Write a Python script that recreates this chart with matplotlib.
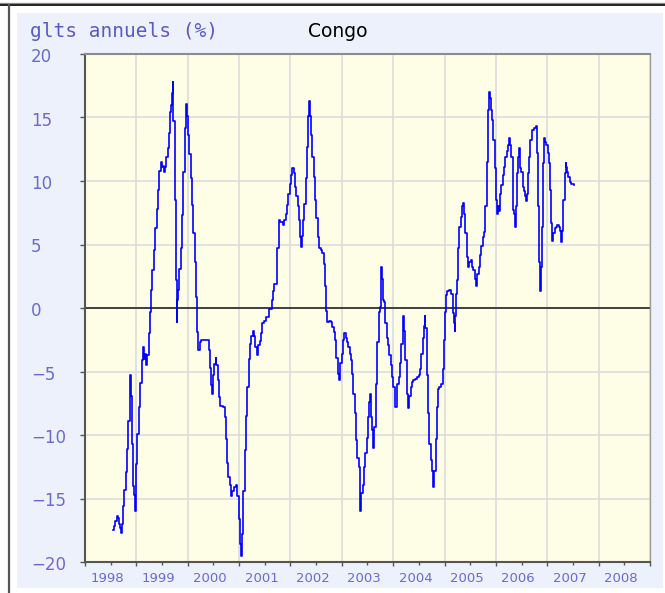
import matplotlib
matplotlib.use("Agg")
import matplotlib.pyplot as plt
from matplotlib.lines import Line2D
from matplotlib.patches import Rectangle
from matplotlib.transforms import blended_transform_factory, ScaledTranslation

# annual growth rate, Congo (decimal year, %)
dates = [
    1998.546, 1998.565, 1998.592, 1998.618, 1998.643, 1998.662, 1998.682, 1998.709, 1998.721, 1998.740,
    1998.767, 1998.793, 1998.818, 1998.845, 1998.870, 1998.884, 1998.896, 1998.915, 1998.942, 1998.962,
    1998.973, 1998.993, 1999.020, 1999.051, 1999.078, 1999.103, 1999.129, 1999.148, 1999.175, 1999.195,
    1999.214, 1999.239, 1999.259, 1999.284, 1999.311, 1999.336, 1999.362, 1999.395, 1999.420, 1999.447,
    1999.472, 1999.492, 1999.511, 1999.537, 1999.556, 1999.583, 1999.608, 1999.634, 1999.653, 1999.673,
    1999.686, 1999.706, 1999.719, 1999.744, 1999.764, 1999.783, 1999.789, 1999.797, 1999.808, 1999.836,
    1999.861, 1999.886, 1999.913, 1999.939, 1999.958, 1999.972, 1999.991, 2000.003, 2000.030, 2000.055,
    2000.080, 2000.108, 2000.139, 2000.158, 2000.178, 2000.185, 2000.205, 2000.230, 2000.263, 2000.366,
    2000.405, 2000.430, 2000.457, 2000.477, 2000.496, 2000.521, 2000.541, 2000.560, 2000.586, 2000.613,
    2000.638, 2000.690, 2000.716, 2000.741, 2000.768, 2000.793, 2000.819, 2000.846, 2000.871, 2000.910,
    2000.935, 2000.962, 2001.001, 2001.021, 2001.046, 2001.065, 2001.085, 2001.110, 2001.137, 2001.162,
    2001.188, 2001.215, 2001.240, 2001.265, 2001.293, 2001.318, 2001.351, 2001.376, 2001.401, 2001.429,
    2001.454, 2001.479, 2001.531, 2001.584, 2001.634, 2001.662, 2001.687, 2001.739, 2001.784,
    2001.803, 2001.856, 2001.881, 2001.906, 2001.934, 2001.959, 2001.984, 2002.011, 2002.037, 2002.062,
    2002.089, 2002.114, 2002.140, 2002.167, 2002.192, 2002.206, 2002.217, 2002.244, 2002.270, 2002.295,
    2002.322, 2002.347, 2002.367, 2002.386, 2002.400, 2002.425, 2002.450, 2002.478, 2002.503, 2002.528,
    2002.555, 2002.594, 2002.619, 2002.645, 2002.672, 2002.691,
    2002.711, 2002.749, 2002.788, 2002.814, 2002.839, 2002.866, 2002.891, 2002.917, 2002.944, 2002.969,
    2002.994, 2003.021, 2003.047, 2003.072, 2003.099, 2003.124, 2003.150, 2003.177, 2003.202, 2003.227,
    2003.255, 2003.280, 2003.305, 2003.332, 2003.352, 2003.363, 2003.383, 2003.410, 2003.435, 2003.460,
    2003.488, 2003.513, 2003.538, 2003.552, 2003.565, 2003.577, 2003.596, 2003.616, 2003.635, 2003.662,
    2003.674, 2003.694, 2003.721, 2003.746, 2003.760, 2003.771, 2003.785, 2003.810, 2003.830, 2003.849,
    2003.876, 2003.901, 2003.927, 2003.954, 2003.979, 2004.004, 2004.032, 2004.043, 2004.070, 2004.082,
    2004.109, 2004.134, 2004.160, 2004.187, 2004.199, 2004.212, 2004.226, 2004.237, 2004.265, 2004.284,
    2004.303, 2004.342, 2004.368, 2004.393, 2004.420, 2004.459, 2004.498, 2004.523, 2004.548, 2004.575,
    2004.601, 2004.614, 2004.626, 2004.653, 2004.665, 2004.678, 2004.704, 2004.731, 2004.756, 2004.770,
    2004.782, 2004.801, 2004.828, 2004.847, 2004.873, 2004.898, 2004.937, 2004.964, 2004.983, 2005.003,
    2005.022, 2005.042, 2005.081, 2005.106, 2005.131, 2005.158, 2005.170, 2005.183, 2005.197, 2005.208,
    2005.228,
    2005.236, 2005.261, 2005.286, 2005.314, 2005.339, 2005.352, 2005.378, 2005.403, 2005.430, 2005.455,
    2005.481, 2005.508, 2005.533, 2005.558, 2005.586, 2005.611, 2005.636, 2005.663, 2005.689, 2005.714,
    2005.741, 2005.766, 2005.791, 2005.819, 2005.838, 2005.850, 2005.863, 2005.883, 2005.896, 2005.922,
    2005.947, 2005.974, 2005.999, 2006.025, 2006.038, 2006.052, 2006.077, 2006.102, 2006.129, 2006.155,
    2006.180, 2006.207, 2006.232, 2006.258, 2006.271, 2006.297, 2006.324, 2006.335, 2006.349, 2006.363,
    2006.382, 2006.401, 2006.413, 2006.433, 2006.446, 2006.460, 2006.471, 2006.491, 2006.518, 2006.543,
    2006.568, 2006.582, 2006.596, 2006.621, 2006.646, 2006.673, 2006.699, 2006.738, 2006.776, 2006.796,
    2006.821, 2006.841, 2006.860, 2006.873, 2006.893, 2006.912, 2006.932, 2006.957, 2006.984, 2007.009,
    2007.029, 2007.048, 2007.068, 2007.093, 2007.120, 2007.145, 2007.171, 2007.198, 2007.223, 2007.249,
    2007.276, 2007.295, 2007.314, 2007.340, 2007.359, 2007.373, 2007.392, 2007.412, 2007.437, 2007.462,
    2007.489, 2007.514,
]

growth = [
    -17.5, -17.2, -16.8, -16.4, -16.5, -17.0, -17.3, -17.7, -17.0, -15.6,
    -14.3, -12.9, -11.1, -8.9, -6.5, -5.3, -6.9, -10.7, -14.0, -14.7,
    -16.0, -12.3, -9.9, -7.8, -5.9, -4.1, -3.1, -4.0, -3.6, -4.5,
    -3.7, -2.0, -0.3, 1.4, 3.0, 4.6, 6.3, 7.8, 9.3, 10.8,
    11.5, 11.1, 11.2, 10.7, 11.1, 11.9, 12.6, 13.8, 15.4, 16.0,
    16.9, 17.8, 14.7, 8.5, 2.2, 0.1, -1.1, 0.6, 1.4, 3.1,
    4.7, 7.3, 10.7, 14.2, 15.2, 16.1, 15.1, 13.6, 12.1, 10.2,
    8.1, 5.9, 3.6, 0.9, 0.1, -1.9, -3.3, -2.7, -2.5, -2.5,
    -3.3, -4.7, -6.1, -6.8, -5.3, -4.4, -3.9, -4.5, -5.7, -7.0,
    -7.7, -7.8, -8.6, -10.3, -12.2, -13.3, -13.9, -14.8, -14.4, -14.1,
    -13.9, -14.8, -16.6, -18.6, -19.5, -17.8, -14.4, -11.2, -8.5, -6.2,
    -4.0, -2.8, -2.2, -1.8, -2.2, -3.1, -3.7, -2.9, -2.6, -2.0,
    -1.2, -1.0, -0.7, -0.1, 0.6, 1.3, 1.9, 4.7, 6.9,
    6.8, 6.5, 6.9, 7.4, 8.1, 9.0, 9.8, 10.5, 11.0, 10.6,
    9.5, 8.8, 8.0, 6.9, 5.6, 4.8, 5.7, 6.9, 8.2, 10.2,
    12.7, 15.1, 16.3, 15.1, 13.6, 11.9, 10.3, 8.5, 7.1, 5.6,
    4.7, 4.6, 4.3, 3.5, 1.7, -0.2,
    -1.1, -1.0, -1.1, -1.5, -1.9, -2.5, -3.9, -5.2, -5.7, -4.3,
    -3.6, -2.5, -2.0, -2.4, -2.7, -3.1, -3.6, -4.1, -5.2, -6.8,
    -8.3, -10.4, -11.8, -12.5, -14.6, -16.0, -14.6, -13.9, -12.5, -11.4,
    -10.2, -8.6, -7.4, -6.8, -7.5, -8.6, -9.6, -11.0, -9.4, -8.1,
    -6.0, -2.7, -0.3, 0.1, 2.6, 3.2, 2.3, 0.6, 0.5, -1.2,
    -2.4, -2.9, -3.7, -4.5, -5.4, -6.2, -7.1, -7.8, -6.9, -6.0,
    -5.4, -4.3, -2.8, -1.8, -0.6, -1.8, -2.0, -4.1, -6.8, -7.9,
    -6.9, -6.2, -5.8, -5.7, -5.6, -5.4, -5.3, -4.8, -3.6, -2.4,
    -1.4, -0.6, -1.6, -3.1, -5.3, -8.3, -10.7, -12.0, -12.8, -13.6,
    -14.1, -12.8, -10.3, -7.8, -6.4, -6.2, -6.0, -4.8, -2.5, -0.3,
    1.0, 1.3, 1.4, 1.4, 1.1, 0.2, -0.4, -1.2, -1.8, -0.6,
    1.1,
    2.2, 4.7, 6.4, 7.2, 8.0, 8.3, 7.4, 5.9, 4.0, 3.2,
    3.6, 3.8, 3.2, 3.0, 2.3, 1.7, 2.7, 3.2, 4.2, 4.9,
    5.6, 6.0, 8.0, 11.5, 15.1, 15.6, 17.0, 16.5, 15.6, 14.8,
    13.2, 11.0, 8.5, 7.4, 8.0, 7.6, 9.0, 9.7, 10.5, 11.1,
    11.9, 12.4, 12.8, 13.4, 12.8, 11.9, 10.1, 7.7, 7.4, 6.4,
    8.0, 9.5, 10.6, 11.9, 12.6, 11.8, 11.0, 10.7, 9.5, 9.2,
    8.8, 8.4, 9.0, 10.6, 11.9, 13.2, 14.0, 14.2, 14.3, 12.2,
    8.0, 3.6, 1.3, 3.2, 6.4, 11.4, 13.4, 13.1, 12.8, 12.2,
    11.4, 9.3, 6.7, 5.3, 5.9, 6.3, 6.4, 6.5, 6.4, 6.1,
    5.2, 6.1, 8.5, 10.6, 11.4, 11.1, 10.7, 10.3, 9.9, 9.8,
    9.8, 9.7,
]

years = list(range(1998, 2009))
y_ticks = [20, 15, 10, 5, 0, -5, -10, -15, -20]

W, H = 665, 593
label_color = "#6a6ad2"

fig = plt.figure(figsize=(W / 100, H / 100), dpi=100)
fig.patch.set_facecolor("white")

# page frame: double rule on top, dark border on the left
fig.add_artist(Line2D([0, 1], [1 - 2.5 / H] * 2, color="#8a8a8a", lw=0.9, zorder=-5))
fig.add_artist(Line2D([0, 1], [1 - 5.0 / H] * 2, color="#111111", lw=1.3, zorder=-5))
fig.add_artist(Line2D([9.0 / W] * 2, [1 - 5.0 / H, 0], color="#555555", lw=1.6, zorder=-5))

# light blue chart panel, kept behind the axes
fig.add_artist(Rectangle((17 / W, 1 - 588 / H), (663 - 17) / W, (588 - 13) / H,
                         facecolor="#edf1fb", edgecolor="none", zorder=-10))

ax = fig.add_axes([85 / W, 1 - 562 / H, (650 - 85) / W, (562 - 54) / H])
ax.set_facecolor("#fefde6")
ax.set_xlim(1998, 2009)
ax.set_ylim(-20, 20)

ax.set_xticks(range(1998, 2010))
ax.set_xticks([y + 0.5 for y in years], minor=True)
ax.set_yticks(y_ticks)
ax.set_xticklabels([])
ax.set_yticklabels([])
ax.tick_params(axis="x", which="major", length=3.2, width=1.0, color="#555555", direction="out")
ax.tick_params(axis="x", which="minor", length=1.8, width=1.0, color="#555555", direction="out")
ax.tick_params(axis="y", length=3.6, width=1.0, color="#555555", direction="out")

ax.grid(True, which="major", color="#dcdcdc", lw=1.2)
ax.set_axisbelow(True)
for side in ["left", "bottom"]:
    ax.spines[side].set_color("#555555")
    ax.spines[side].set_linewidth(1.5)
ax.spines["top"].set_color("#8c8c8c")
ax.spines["top"].set_linewidth(1.5)
ax.spines["right"].set_color("#a0a0a0")
ax.spines["right"].set_linewidth(1.0)

ax.axhline(0, color="#333333", lw=1.3, zorder=2)
ax.plot(dates, growth, color="#0000ff", lw=1.2, drawstyle="steps-post", zorder=3)

# y labels, left aligned in the panel margin
ytrans = blended_transform_factory(fig.transFigure, ax.transData) + \
    ScaledTranslation(0, -3 / 100, fig.dpi_scale_trans)
for v in y_ticks:
    ax.text(31 / W, v, "%d" % v if v >= 0 else "\u2212%d" % -v, transform=ytrans,
            ha="left", va="center", fontsize=12, color=label_color,
            family="DejaVu Sans", clip_on=False)

# x labels sit a little left of mid-year
xtrans = blended_transform_factory(ax.transData, fig.transFigure)
for yr in years:
    ax.text(yr + 0.435, 1 - 572 / H, str(yr), transform=xtrans, ha="center", va="top",
            fontsize=9.5, color=label_color, family="DejaVu Sans", clip_on=False)

fig.text(30 / W, 1 - 37 / H, "glts annuels (%)", ha="left", va="baseline",
         fontsize=14, color="#5a5ac4", family="DejaVu Sans Mono")
fig.text(308 / W, 1 - 37 / H, "Congo", ha="left", va="baseline",
         fontsize=13.5, color="black", family="DejaVu Sans")

fig.savefig("out.png", dpi=100)
plt.close()
